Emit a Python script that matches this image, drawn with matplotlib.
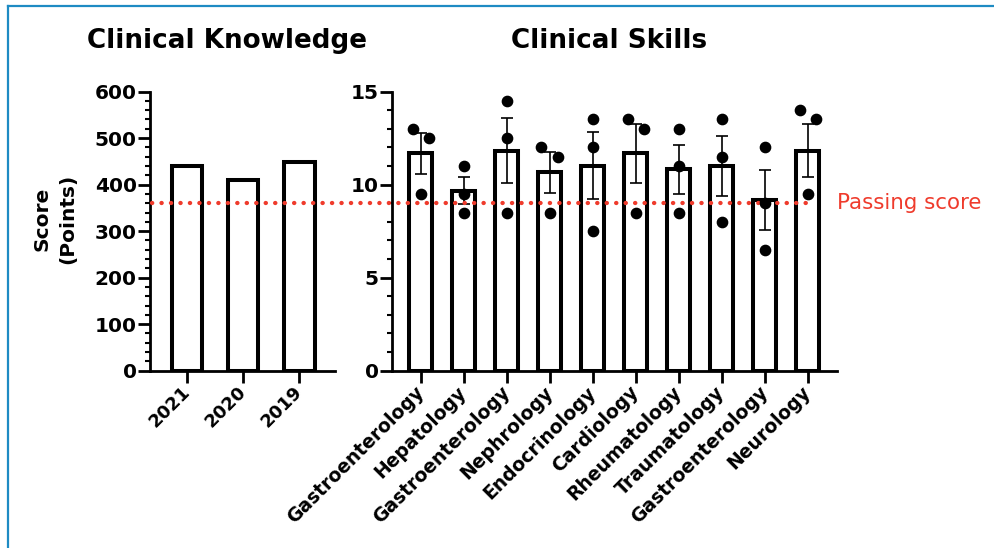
import numpy as np
import matplotlib
matplotlib.use('Agg')
import matplotlib.pyplot as plt
from matplotlib.lines import Line2D
from matplotlib.ticker import MultipleLocator
from matplotlib.transforms import blended_transform_factory

# ---- data ----
years = ['2021', '2020', '2019']
knowledge_scores = [440, 410, 448]

specialties = ['Gastroenterology', 'Hepatology', 'Gastroenterology', 'Nephrology',
               'Endocrinology', 'Cardiology', 'Rheumatology', 'Traumatology',
               'Gastroenterology', 'Neurology']
skill_means = [11.67, 9.67, 11.83, 10.67, 11.0, 11.67, 10.83, 11.0, 9.17, 11.83]
skill_sem = [1.10, 0.73, 1.76, 1.10, 1.80, 1.60, 1.32, 1.61, 1.59, 1.42]
skill_points = [
    [13.0, 12.5, 9.5],
    [11.0, 9.5, 8.5],
    [14.5, 12.5, 8.5],
    [12.0, 11.5, 8.5],
    [13.5, 12.0, 7.5],
    [13.5, 13.0, 8.5],
    [13.0, 11.0, 8.5],
    [13.5, 11.5, 8.0],
    [12.0, 9.0, 6.5],
    [14.0, 13.5, 9.5],
]
# sideways jitter of the individual dots (in category units)
dot_jitter = [
    [-0.19, 0.19, 0], [0, 0, 0], [0, 0, 0], [-0.2, 0.2, 0], [0, 0, 0],
    [-0.19, 0.19, 0], [0, 0, 0], [0, 0, 0], [0, 0, 0], [-0.19, 0.19, 0],
]
passing_skills = 9  # = 360 points on the knowledge scale

RED = '#ef3b2c'
BLUE = '#1e8bc3'

plt.rcParams['font.family'] = 'DejaVu Sans'
plt.rcParams['font.weight'] = 'bold'

fig = plt.figure(figsize=(9.94, 5.48), dpi=100)
bottom, height = 0.3235, 0.5095
ax1 = fig.add_axes([0.1509, bottom, 0.1861, height])
ax2 = fig.add_axes([0.3941, bottom, 0.4480, height])

def style(ax):
    for s in ['top', 'right']:
        ax.spines[s].set_visible(False)
    for s in ['left', 'bottom']:
        ax.spines[s].set_linewidth(2)
    ax.tick_params(axis='both', which='major', direction='out', length=8.5, width=2, pad=1)
    ax.tick_params(axis='y', which='minor', direction='out', length=3.6, width=1.5)
    ax.tick_params(axis='y', labelsize=14.5)

# left panel
x1 = np.arange(len(years))
ax1.bar(x1, knowledge_scores, width=0.55, facecolor='white', edgecolor='black', linewidth=2.9, zorder=2)
ax1.set_xlim(-0.66, 2.64)
ax1.set_ylim(0, 600)
ax1.set_yticks(range(0, 601, 100))
ax1.yaxis.set_minor_locator(MultipleLocator(20))
ax1.set_xticks(x1)
ax1.set_xticklabels(years, rotation=45, ha='right', va='center', rotation_mode='anchor',
                    fontsize=13, fontweight='bold')
style(ax1)
ax1.tick_params(axis='x', pad=5)

# right panel
x2 = np.arange(len(specialties))
ax2.bar(x2, skill_means, width=0.53, facecolor='white', edgecolor='black', linewidth=2.9, zorder=2)
ax2.errorbar(x2, skill_means, yerr=skill_sem, fmt='none', ecolor='black',
             elinewidth=1.2, capsize=4.6, capthick=1.2, zorder=3)
for i, pts in enumerate(skill_points):
    ax2.plot(x2[i] + np.array(dot_jitter[i]), pts, 'o', color='black', ms=7.4, zorder=5)
ax2.set_xlim(-0.674, 9.68)
ax2.set_ylim(0, 15)
ax2.set_yticks([0, 5, 10, 15])
ax2.yaxis.set_minor_locator(MultipleLocator(1))
ax2.set_xticks(x2)
ax2.set_xticklabels(specialties, rotation=45, ha='right', va='center', rotation_mode='anchor',
                    fontsize=13.5, fontweight='bold')
style(ax2)
ax2.tick_params(axis='x', pad=5)

# passing score line spanning both panels
trans = blended_transform_factory(fig.transFigure, ax2.transData)
ax2.add_line(Line2D([152 / 994, 813 / 994], [passing_skills, passing_skills], transform=trans,
                    clip_on=False, color=RED, linewidth=3.1, dashes=(0.05, 2.15),
                    dash_capstyle='round', zorder=4))
ax2.text(1.0, passing_skills, 'Passing score', transform=blended_transform_factory(ax2.transAxes, ax2.transData),
         color=RED, fontsize=15.4, fontweight='normal', ha='left', va='center')

# titles and y label
fig.text(227 / 994, 1 - 48.3 / 548, 'Clinical Knowledge', fontsize=18.9, fontweight='bold',
         ha='center', va='baseline')
fig.text(609 / 994, 1 - 48.3 / 548, 'Clinical Skills', fontsize=18.9, fontweight='bold',
         ha='center', va='baseline')
fig.text(55 / 994, 1 - 219 / 548, 'Score\n(Points)', fontsize=14.5, fontweight='bold',
         rotation=90, ha='center', va='center', multialignment='center', linespacing=1.5)

# blue frame on top and left
fig.add_artist(Line2D([7.7 / 994, 1], [1 - 6 / 548, 1 - 6 / 548], transform=fig.transFigure,
                      color=BLUE, linewidth=1.6))
fig.add_artist(Line2D([7.7 / 994, 7.7 / 994], [0, 1 - 6 / 548], transform=fig.transFigure,
                      color=BLUE, linewidth=1.6))

fig.savefig('out.png', dpi=100)
